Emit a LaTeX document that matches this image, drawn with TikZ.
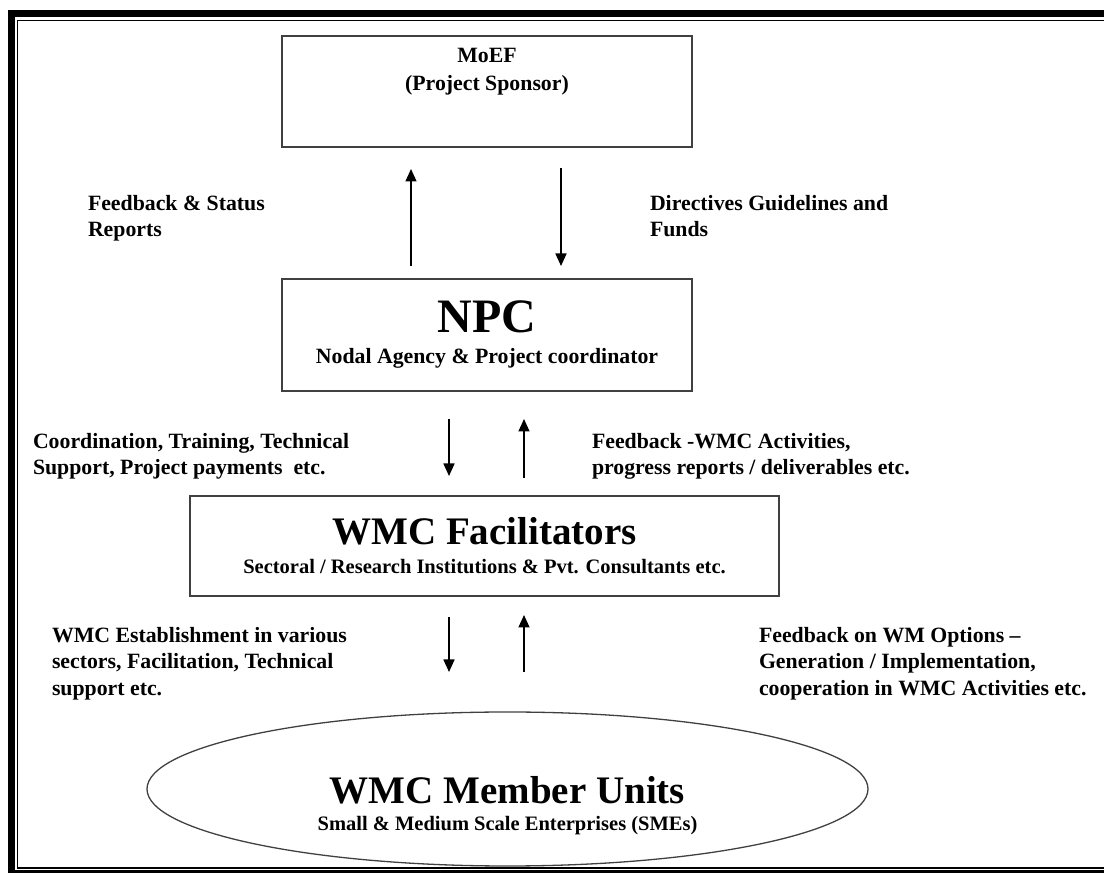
\documentclass[tikz,border=0pt]{standalone}
\usepackage{fontspec}
\setmainfont{Liberation Serif}
\usetikzlibrary{arrows.meta,shapes.geometric}
\definecolor{c404040}{RGB}{64,64,64}

\tikzset{
  box/.style={draw=c404040, line width=1.6pt, rectangle, align=center},
  note/.style={anchor=north west, align=left, font=\fontsize{21.8}{26.5}\selectfont\bfseries},
  flow/.style={line width=1.6pt, -{Triangle[length=12.5pt,width=11pt]}},
}

\begin{document}
\begin{tikzpicture}[x=1pt, y=1pt, inner sep=0pt, outer sep=0pt]
  \useasboundingbox (0,0) rectangle (1104,873);

  % double frame
  \draw[line width=7pt] (11.5,-0.5) rectangle (1120,859.3);
  \draw[line width=1.5pt] (17.7,5) rectangle (1120,852.5);

  % boxes
  \node[box, minimum width=410, minimum height=111] (moef) at (487,781.5) {};
  \node[anchor=north, align=center, font=\fontsize{21.8}{28}\selectfont\bfseries] (moeftext) at (487,825) {MoEF\\(Project Sponsor)};

  \node[box, minimum width=410, minimum height=112, font=\fontsize{21.8}{31}\selectfont\bfseries] (npc) at (487,538)
    {{\fontsize{48}{50}\selectfont NPC}\\Nodal Agency \& Project coordinator};

  \node[box, minimum width=589, minimum height=100, font=\fontsize{20.5}{29}\selectfont\bfseries] (facil) at (484.5,327)
    {{\fontsize{39}{40}\selectfont WMC Facilitators}\\Sectoral / Research Institutions \& Pvt. Consultants etc.};

  \node[draw=c404040, line width=1.3pt, ellipse, minimum width=721, minimum height=154] (units) at (507.5,84) {};
  \node[align=center, font=\fontsize{20.5}{27}\selectfont\bfseries] (unitstext) at (507.5,67)
    {{\fontsize{39}{40}\selectfont WMC Member Units}\\Small \& Medium Scale Enterprises (SMEs)};

  % arrows
  \coordinate (fbfoot) at (411,607);
  \coordinate (fbtip) at (411,704);
  \coordinate (dirfoot) at (561,705);
  \coordinate (dirtip) at (561,607);
  \coordinate (coordfoot) at (449,454);
  \coordinate (coordtip) at (449,397);
  \coordinate (wmcfoot) at (524,395);
  \coordinate (wmctip) at (524,454);
  \coordinate (estfoot) at (449,256);
  \coordinate (esttip) at (449,201);
  \coordinate (optfoot) at (524,201);
  \coordinate (opttip) at (524,258);
  \draw[flow] (fbfoot) -- (fbtip);
  \draw[flow] (dirfoot) -- (dirtip);
  \draw[flow] (coordfoot) -- (coordtip);
  \draw[flow] (wmcfoot) -- (wmctip);
  \draw[flow] (estfoot) -- (esttip);
  \draw[flow] (optfoot) -- (opttip);

  % labels
  \node[note] (fbstatus) at (88,678) {Feedback \& Status\\Reports};
  \node[note] (directives) at (650,678) {Directives Guidelines and\\Funds};
  \node[note] (coord) at (33,440) {Coordination, Training, Technical\\Support, Project payments~ etc.};
  \node[note] (fbwmc) at (592,440) {Feedback -WMC Activities,\\progress reports / deliverables etc.};
  \node[note] (establish) at (52,246) {WMC Establishment in various\\sectors, Facilitation, Technical\\support etc.};
  \node[note] (fboptions) at (759,246) {Feedback on WM Options --\\Generation / Implementation,\\cooperation in WMC Activities etc.};

\end{tikzpicture}
\end{document}
